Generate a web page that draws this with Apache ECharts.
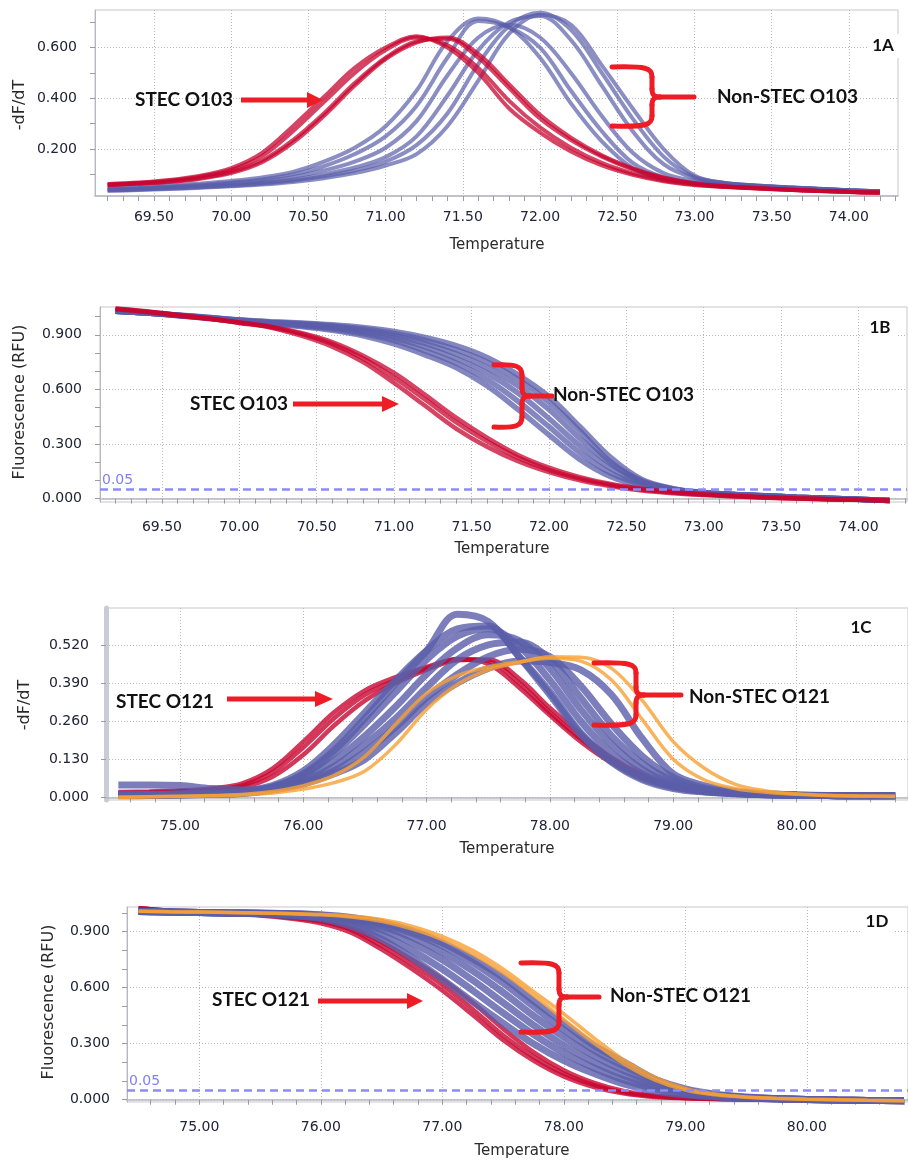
<!DOCTYPE html>
<html>
<head>
<meta charset="utf-8">
<title>STEC O103 / O121 melt curves</title>
<script src="https://cdn.jsdelivr.net/npm/echarts@6.0.0/dist/echarts.min.js"></script>
<style>
  html, body { margin: 0; padding: 0; background: #fff; }
  #chart { width: 908px; height: 1161px; }
</style>
</head>
<body>
<div id="chart"></div>
<script>
  var temp103 = [69.2, 69.4, 69.6, 69.8, 70.0, 70.2, 70.4, 70.6, 70.8, 71.0, 71.2, 71.4, 71.6, 71.8, 72.0, 72.2, 72.4, 72.6, 72.8, 73.0, 73.2, 73.4, 73.6, 73.8, 74.0, 74.2];
  var temp121 = [74.5, 74.75, 75.0, 75.25, 75.5, 75.75, 76.0, 76.25, 76.5, 76.75, 77.0, 77.25, 77.5, 77.75, 78.0, 78.25, 78.5, 78.75, 79.0, 79.25, 79.5, 79.75, 80.0, 80.25, 80.5, 80.8];

  // 1A  -dF/dT, O103
  var redA1 = [0.062, 0.068, 0.078, 0.095, 0.125, 0.185, 0.29, 0.405, 0.52, 0.60, 0.645, 0.60, 0.50, 0.36, 0.265, 0.19, 0.135, 0.098, 0.073, 0.058, 0.05, 0.044, 0.039, 0.034, 0.03, 0.027];
  var redA2 = [0.06, 0.066, 0.075, 0.091, 0.118, 0.172, 0.27, 0.385, 0.50, 0.59, 0.64, 0.61, 0.52, 0.39, 0.285, 0.205, 0.145, 0.104, 0.077, 0.06, 0.051, 0.045, 0.039, 0.034, 0.03, 0.027];
  var redA3 = [0.058, 0.064, 0.072, 0.086, 0.11, 0.155, 0.235, 0.34, 0.46, 0.56, 0.625, 0.635, 0.56, 0.44, 0.32, 0.235, 0.17, 0.12, 0.085, 0.063, 0.052, 0.045, 0.04, 0.035, 0.031, 0.028];
  var redA4 = [0.057, 0.063, 0.07, 0.083, 0.105, 0.148, 0.225, 0.33, 0.45, 0.555, 0.62, 0.64, 0.575, 0.455, 0.335, 0.245, 0.175, 0.124, 0.088, 0.065, 0.053, 0.046, 0.04, 0.035, 0.031, 0.028];
  var blueA1 = [0.045, 0.05, 0.056, 0.064, 0.074, 0.088, 0.11, 0.15, 0.205, 0.29, 0.43, 0.625, 0.715, 0.68, 0.56, 0.38, 0.23, 0.125, 0.08, 0.065, 0.058, 0.052, 0.047, 0.042, 0.037, 0.033];
  var blueA2 = [0.042, 0.046, 0.052, 0.059, 0.068, 0.08, 0.1, 0.132, 0.18, 0.25, 0.37, 0.56, 0.705, 0.68, 0.60, 0.43, 0.27, 0.145, 0.088, 0.067, 0.059, 0.053, 0.047, 0.042, 0.037, 0.033];
  var blueA3 = [0.04, 0.044, 0.049, 0.055, 0.063, 0.074, 0.09, 0.115, 0.15, 0.205, 0.31, 0.49, 0.64, 0.69, 0.64, 0.5, 0.33, 0.185, 0.105, 0.074, 0.062, 0.054, 0.048, 0.042, 0.037, 0.033];
  var blueA4 = [0.038, 0.041, 0.046, 0.051, 0.058, 0.067, 0.08, 0.1, 0.127, 0.168, 0.25, 0.41, 0.59, 0.70, 0.725, 0.63, 0.45, 0.27, 0.14, 0.085, 0.065, 0.056, 0.049, 0.043, 0.037, 0.033];
  var blueA5 = [0.036, 0.04, 0.044, 0.049, 0.055, 0.063, 0.075, 0.092, 0.115, 0.15, 0.215, 0.34, 0.535, 0.685, 0.737, 0.67, 0.5, 0.32, 0.17, 0.09, 0.066, 0.056, 0.049, 0.043, 0.037, 0.032];
  var blueA6 = [0.035, 0.038, 0.042, 0.047, 0.053, 0.06, 0.07, 0.085, 0.105, 0.135, 0.18, 0.29, 0.47, 0.655, 0.73, 0.69, 0.53, 0.36, 0.2, 0.095, 0.065, 0.055, 0.048, 0.042, 0.036, 0.032];

  // 1B  fluorescence, O103
  var redB1 = [1.045, 1.03, 1.01, 0.99, 0.965, 0.94, 0.895, 0.835, 0.75, 0.635, 0.51, 0.385, 0.285, 0.205, 0.145, 0.1, 0.068, 0.045, 0.03, 0.02, 0.012, 0.005, 0.0, -0.004, -0.007, -0.01];
  var redB2 = [1.043, 1.028, 1.008, 0.989, 0.967, 0.943, 0.905, 0.85, 0.77, 0.665, 0.545, 0.42, 0.315, 0.225, 0.158, 0.11, 0.075, 0.05, 0.033, 0.022, 0.013, 0.006, 0.001, -0.003, -0.007, -0.01];
  var redB3 = [1.04, 1.025, 1.005, 0.988, 0.968, 0.945, 0.91, 0.86, 0.785, 0.69, 0.57, 0.445, 0.335, 0.24, 0.17, 0.118, 0.08, 0.054, 0.036, 0.024, 0.015, 0.008, 0.002, -0.003, -0.007, -0.01];
  var blueB1 = [1.03, 1.02, 1.005, 0.99, 0.975, 0.96, 0.945, 0.925, 0.895, 0.85, 0.79, 0.72, 0.62, 0.49, 0.35, 0.215, 0.12, 0.07, 0.045, 0.03, 0.022, 0.015, 0.008, 0.002, -0.004, -0.01];
  var blueB2 = [1.03, 1.02, 1.006, 0.992, 0.977, 0.963, 0.95, 0.932, 0.905, 0.868, 0.812, 0.745, 0.655, 0.535, 0.395, 0.252, 0.14, 0.078, 0.048, 0.031, 0.022, 0.015, 0.008, 0.002, -0.004, -0.01];
  var blueB3 = [1.03, 1.02, 1.007, 0.993, 0.979, 0.966, 0.954, 0.939, 0.915, 0.882, 0.833, 0.77, 0.69, 0.58, 0.44, 0.29, 0.165, 0.088, 0.05, 0.032, 0.022, 0.015, 0.008, 0.002, -0.004, -0.01];
  var blueB4 = [1.03, 1.02, 1.008, 0.994, 0.98, 0.968, 0.958, 0.945, 0.925, 0.895, 0.853, 0.795, 0.72, 0.62, 0.49, 0.33, 0.19, 0.095, 0.052, 0.033, 0.022, 0.015, 0.008, 0.002, -0.004, -0.01];
  var blueB5 = [1.03, 1.02, 1.008, 0.995, 0.981, 0.97, 0.962, 0.95, 0.933, 0.907, 0.87, 0.818, 0.75, 0.655, 0.53, 0.37, 0.2, 0.098, 0.053, 0.033, 0.022, 0.015, 0.008, 0.002, -0.004, -0.01];
  var blueB6 = [1.03, 1.02, 1.009, 0.996, 0.982, 0.972, 0.965, 0.955, 0.94, 0.918, 0.885, 0.84, 0.775, 0.68, 0.56, 0.395, 0.225, 0.105, 0.055, 0.034, 0.022, 0.014, 0.007, 0.001, -0.005, -0.01];

  // 1C  -dF/dT, O121
  var redC1 = [0.015, 0.017, 0.02, 0.026, 0.04, 0.085, 0.17, 0.27, 0.35, 0.40, 0.44, 0.472, 0.465, 0.39, 0.29, 0.2, 0.125, 0.07, 0.035, 0.02, 0.012, 0.008, 0.006, 0.005, 0.004, 0.004];
  var redC2 = [0.012, 0.014, 0.017, 0.022, 0.033, 0.07, 0.145, 0.245, 0.33, 0.39, 0.435, 0.468, 0.47, 0.405, 0.305, 0.215, 0.135, 0.077, 0.04, 0.022, 0.013, 0.009, 0.006, 0.005, 0.004, 0.004];
  var redC3 = [0.018, 0.02, 0.023, 0.03, 0.047, 0.098, 0.19, 0.29, 0.365, 0.41, 0.445, 0.47, 0.455, 0.375, 0.28, 0.19, 0.118, 0.066, 0.033, 0.018, 0.011, 0.008, 0.006, 0.005, 0.004, 0.004];
  var blueC1 = [0.042, 0.042, 0.04, 0.03, 0.025, 0.035, 0.08, 0.16, 0.27, 0.39, 0.5, 0.625, 0.6, 0.48, 0.35, 0.215, 0.12, 0.06, 0.03, 0.018, 0.012, 0.009, 0.007, 0.006, 0.005, 0.005];
  var blueC2 = [0.01, 0.01, 0.012, 0.015, 0.02, 0.04, 0.09, 0.18, 0.29, 0.40, 0.50, 0.575, 0.585, 0.48, 0.36, 0.22, 0.125, 0.065, 0.035, 0.02, 0.013, 0.009, 0.007, 0.006, 0.005, 0.005];
  var blueC3 = [0.009, 0.009, 0.011, 0.014, 0.018, 0.035, 0.075, 0.15, 0.25, 0.36, 0.47, 0.55, 0.575, 0.515, 0.40, 0.26, 0.15, 0.08, 0.04, 0.021, 0.013, 0.009, 0.007, 0.006, 0.005, 0.005];
  var blueC4 = [0.008, 0.008, 0.01, 0.013, 0.016, 0.031, 0.064, 0.125, 0.21, 0.31, 0.42, 0.51, 0.555, 0.535, 0.44, 0.30, 0.18, 0.095, 0.047, 0.024, 0.014, 0.01, 0.007, 0.006, 0.005, 0.005];
  var blueC5 = [0.007, 0.007, 0.009, 0.012, 0.015, 0.028, 0.055, 0.105, 0.18, 0.27, 0.375, 0.47, 0.52, 0.53, 0.47, 0.34, 0.21, 0.115, 0.056, 0.028, 0.015, 0.01, 0.007, 0.006, 0.005, 0.005];
  var blueC6 = [0.006, 0.006, 0.008, 0.011, 0.014, 0.026, 0.05, 0.09, 0.155, 0.24, 0.34, 0.42, 0.48, 0.505, 0.48, 0.38, 0.25, 0.14, 0.068, 0.032, 0.017, 0.011, 0.008, 0.006, 0.005, 0.005];
  var blueC7 = [0.005, 0.006, 0.008, 0.01, 0.013, 0.025, 0.045, 0.08, 0.13, 0.22, 0.32, 0.39, 0.44, 0.465, 0.46, 0.435, 0.35, 0.2, 0.08, 0.04, 0.02, 0.012, 0.008, 0.006, 0.005, 0.005];
  var orangeC1 = [0.0, 0.002, 0.004, 0.006, 0.01, 0.02, 0.04, 0.075, 0.14, 0.25, 0.355, 0.415, 0.445, 0.462, 0.475, 0.465, 0.40, 0.265, 0.13, 0.06, 0.03, 0.017, 0.01, 0.006, 0.004, 0.003];
  var orangeC2 = [0.0, 0.002, 0.003, 0.005, 0.008, 0.015, 0.028, 0.05, 0.09, 0.18, 0.3, 0.385, 0.435, 0.46, 0.48, 0.478, 0.44, 0.33, 0.19, 0.1, 0.045, 0.022, 0.012, 0.007, 0.005, 0.004];

  // 1D  fluorescence, O121
  var redD1 = [1.025, 1.012, 1.003, 0.997, 0.99, 0.975, 0.955, 0.91, 0.825, 0.725, 0.615, 0.485, 0.345, 0.23, 0.14, 0.078, 0.038, 0.018, 0.009, 0.004, 0.002, 0.0, -0.002, -0.004, -0.005, -0.006];
  var redD2 = [1.025, 1.012, 1.003, 0.997, 0.991, 0.978, 0.96, 0.92, 0.845, 0.75, 0.645, 0.52, 0.38, 0.255, 0.158, 0.09, 0.045, 0.021, 0.01, 0.005, 0.002, 0.0, -0.002, -0.004, -0.005, -0.006];
  var redD3 = [1.025, 1.012, 1.002, 0.995, 0.987, 0.97, 0.945, 0.895, 0.805, 0.7, 0.585, 0.455, 0.32, 0.21, 0.125, 0.068, 0.033, 0.015, 0.008, 0.004, 0.002, 0.0, -0.002, -0.004, -0.005, -0.006];
  var blueD1 = [1.008, 1.005, 1.002, 0.999, 0.995, 0.985, 0.97, 0.93, 0.86, 0.76, 0.645, 0.525, 0.41, 0.3, 0.21, 0.14, 0.083, 0.047, 0.026, 0.014, 0.008, 0.004, 0.001, -0.002, -0.004, -0.005];
  var blueD2 = [1.008, 1.005, 1.002, 1.0, 0.997, 0.989, 0.976, 0.945, 0.885, 0.8, 0.7, 0.585, 0.465, 0.35, 0.25, 0.17, 0.105, 0.06, 0.032, 0.017, 0.009, 0.004, 0.001, -0.002, -0.004, -0.005];
  var blueD3 = [1.008, 1.005, 1.002, 1.0, 0.998, 0.992, 0.981, 0.957, 0.91, 0.84, 0.75, 0.64, 0.52, 0.4, 0.29, 0.2, 0.128, 0.075, 0.04, 0.02, 0.01, 0.005, 0.001, -0.002, -0.004, -0.005];
  var blueD4 = [1.008, 1.005, 1.002, 1.0, 0.998, 0.994, 0.985, 0.966, 0.928, 0.87, 0.79, 0.69, 0.575, 0.45, 0.335, 0.235, 0.155, 0.092, 0.05, 0.025, 0.012, 0.005, 0.001, -0.002, -0.004, -0.005];
  var blueD5 = [1.008, 1.005, 1.002, 1.0, 0.999, 0.996, 0.988, 0.972, 0.942, 0.893, 0.825, 0.735, 0.625, 0.5, 0.375, 0.265, 0.178, 0.108, 0.058, 0.029, 0.014, 0.006, 0.001, -0.002, -0.004, -0.005];
  var blueD6 = [1.008, 1.005, 1.002, 1.0, 0.999, 0.997, 0.99, 0.976, 0.95, 0.905, 0.84, 0.755, 0.655, 0.53, 0.41, 0.29, 0.2, 0.11, 0.05, 0.025, 0.012, 0.006, 0.001, -0.002, -0.004, -0.005];
  var orangeD1 = [1.01, 1.007, 1.005, 1.003, 1.0, 0.997, 0.993, 0.983, 0.965, 0.93, 0.875, 0.8, 0.7, 0.58, 0.46, 0.33, 0.21, 0.12, 0.06, 0.03, 0.015, 0.008, 0.003, 0.0, -0.003, -0.005];
  var orangeD2 = [1.01, 1.007, 1.005, 1.003, 1.0, 0.996, 0.99, 0.978, 0.955, 0.915, 0.858, 0.78, 0.68, 0.56, 0.43, 0.305, 0.19, 0.105, 0.052, 0.026, 0.013, 0.007, 0.003, 0.0, -0.003, -0.005];

  // tick labels
  var xLabels103 = [69.5, 70.0, 70.5, 71.0, 71.5, 72.0, 72.5, 73.0, 73.5, 74.0];
  var xLabels121 = [75, 76, 77, 78, 79, 80];
  var yLabelsA = [0.2, 0.4, 0.6];
  var yLabelsB = [0, 0.3, 0.6, 0.9];
  var yLabelsC = [0, 0.13, 0.26, 0.39, 0.52];
  var yLabelsD = [0, 0.3, 0.6, 0.9];
  var threshold = 0.05;

  var RED = '#c80530', BLUE = '#5a5ea9', ORANGE = '#f7a035', MARK = '#ee1c24';

  function steps(a, b, s) {
    var out = [];
    for (var v = a; v <= b + 1e-9; v += s) out.push(Math.round(v * 1000) / 1000);
    return out;
  }

  var panels = [
    { left: 95, top: 10, width: 803, height: 186, xMin: 69.118, xMax: 74.318, yMin: 0.0146, yMax: 0.7483,
      xLab: xLabels103, xMinor: steps(69.2, 74.3, 0.1), yLab: yLabelsA, yMinor: steps(0.1, 0.7, 0.1), xMargin: 14, yMargin: 18, yLineW: 1 },
    { left: 100, top: 307, width: 807, height: 195, xMin: 69.1, xMax: 74.313, yMin: -0.0187, yMax: 1.0527,
      xLab: xLabels103, xMinor: steps(69.2, 74.3, 0.1), yLab: yLabelsB, yMinor: steps(0, 1.0, 0.1), xMargin: 18, yMargin: 18, yLineW: 1 },
    { left: 106, top: 608, width: 802, height: 192, xMin: 74.4, xMax: 80.904, yMin: -0.0092, yMax: 0.6461,
      xLab: xLabels121, xMinor: steps(74.6, 80.8, 0.2), yLab: yLabelsC, yMinor: yLabelsC, xMargin: 19, yMargin: 17, yLineW: 5 },
    { left: 127, top: 907, width: 781, height: 195, xMin: 74.405, xMax: 80.833, yMin: -0.0123, yMax: 1.0321,
      xLab: xLabels121, xMinor: steps(74.6, 80.8, 0.2), yLab: yLabelsD, yMinor: steps(0, 1.0, 0.1), xMargin: 18, yMargin: 17, yLineW: 1 }
  ];

  var grids = [], xAxes = [], yAxes = [];
  panels.forEach(function (p, gi) {
    grids.push({ left: p.left, top: p.top, width: p.width, height: p.height, show: true, borderColor: '#c7c7cf', borderWidth: 1 });
    xAxes.push({
      type: 'value', gridIndex: gi, position: 'bottom', min: p.xMin, max: p.xMax,
      axisLine: { show: true, lineStyle: { color: '#b6b6c0', width: 1.5 } },
      axisTick: { show: false, customValues: p.xLab },
      axisLabel: { customValues: p.xLab, margin: p.xMargin, fontFamily: 'DejaVu Sans', fontSize: 14, color: '#222238',
        formatter: function (v) { return v.toFixed(2); } },
      splitLine: { show: true, lineStyle: { type: [1, 2], color: '#b8b8b8' } }
    });
    xAxes.push({
      type: 'value', gridIndex: gi, position: 'bottom', min: p.xMin, max: p.xMax,
      axisLine: { show: false },
      axisTick: { show: true, customValues: p.xMinor, length: 5, lineStyle: { color: '#9a9aa4' } },
      axisLabel: { show: false }, splitLine: { show: false }
    });
    yAxes.push({
      type: 'value', gridIndex: gi, position: 'left', min: p.yMin, max: p.yMax,
      axisLine: { show: true, lineStyle: { color: p.yLineW > 1 ? '#c9ccd3' : '#b6b6c0', width: p.yLineW } },
      axisTick: { show: false, customValues: p.yLab },
      axisLabel: { customValues: p.yLab, margin: p.yMargin, fontFamily: 'DejaVu Sans', fontSize: 14, color: '#222238',
        formatter: function (v) { return v.toFixed(3); } },
      splitLine: { show: true, lineStyle: { type: [1, 2], color: '#b8b8b8' } }
    });
    yAxes.push({
      type: 'value', gridIndex: gi, position: 'left', min: p.yMin, max: p.yMax,
      axisLine: { show: false },
      axisTick: { show: true, customValues: p.yMinor, length: 5, lineStyle: { color: '#9a9aa4' } },
      axisLabel: { show: false }, splitLine: { show: false }
    });
  });

  function curve(gi, temps, vals, color, opacity, width) {
    return {
      type: 'line', xAxisIndex: gi * 2, yAxisIndex: gi * 2,
      data: temps.map(function (t, i) { return [t, vals[i]]; }),
      smooth: 0.35, symbol: 'none', silent: true, animation: false, clip: true,
      lineStyle: { color: color, opacity: opacity, width: width }
    };
  }

  var series = [];
  [blueA1, blueA2, blueA3, blueA4, blueA5, blueA6].forEach(function (d) { series.push(curve(0, temp103, d, BLUE, 0.7, 4)); });
  [redA1, redA2, redA3, redA4].forEach(function (d) { series.push(curve(0, temp103, d, RED, 0.75, 4)); });

  [blueB1, blueB2, blueB3, blueB4, blueB5, blueB6].forEach(function (d) { series.push(curve(1, temp103, d, BLUE, 0.75, 5.5)); });
  [redB1, redB2, redB3].forEach(function (d) { series.push(curve(1, temp103, d, RED, 0.75, 4.5)); });

  [redC1, redC2, redC3].forEach(function (d) { series.push(curve(2, temp121, d, RED, 0.8, 4.5)); });
  [blueC1, blueC2, blueC3, blueC4, blueC5, blueC6, blueC7].forEach(function (d) { series.push(curve(2, temp121, d, BLUE, 0.8, 7)); });
  [orangeC1, orangeC2].forEach(function (d) { series.push(curve(2, temp121, d, ORANGE, 0.8, 3.5)); });

  [redD1, redD2, redD3].forEach(function (d) { series.push(curve(3, temp121, d, RED, 0.8, 4.5)); });
  [blueD1, blueD2, blueD3, blueD4, blueD5, blueD6].forEach(function (d) { series.push(curve(3, temp121, d, BLUE, 0.8, 7)); });
  [orangeD1, orangeD2].forEach(function (d) { series.push(curve(3, temp121, d, ORANGE, 0.8, 3.5)); });

  // 0.05 threshold lines on the fluorescence panels
  [1, 3].forEach(function (gi) {
    series.push({
      type: 'line', xAxisIndex: gi * 2, yAxisIndex: gi * 2, data: [], silent: true, animation: false,
      markLine: {
        silent: true, symbol: 'none', animation: false,
        lineStyle: { color: '#8b8bff', type: [8, 5], width: 2.5 },
        label: { show: true, position: 'insideStartTop', formatter: String(threshold), color: '#8080f4',
          fontFamily: 'DejaVu Sans', fontSize: 14, distance: 2 },
        data: [{ yAxis: threshold }]
      }
    });
  });

  // annotations (pixel layout)
  var axisNames = [
    { t: '-dF/dT', x: 20, y: 105, rot: true }, { t: 'Temperature', x: 497, y: 245 },
    { t: 'Fluorescence (RFU)', x: 20, y: 402, rot: true }, { t: 'Temperature', x: 502, y: 549 },
    { t: '-dF/dT', x: 25, y: 705, rot: true }, { t: 'Temperature', x: 507, y: 849 },
    { t: 'Fluorescence (RFU)', x: 49, y: 1002, rot: true }, { t: 'Temperature', x: 522, y: 1151 }
  ];
  var tags = [{ t: '1A', x: 883, y: 46 }, { t: '1B', x: 880, y: 328 }, { t: '1C', x: 861, y: 628 }, { t: '1D', x: 877, y: 922 }];
  var notes = [
    { t: 'STEC O103', x: 135, y: 100 }, { t: 'Non-STEC O103', x: 717, y: 97 },
    { t: 'STEC O103', x: 190, y: 404 }, { t: 'Non-STEC O103', x: 553, y: 395 },
    { t: 'STEC O121', x: 116, y: 702 }, { t: 'Non-STEC O121', x: 689, y: 697 },
    { t: 'STEC O121', x: 212, y: 1000 }, { t: 'Non-STEC O121', x: 610, y: 996 }
  ];
  var arrows = [
    { x1: 241, xh: 307, xt: 323, y: 100 }, { x1: 293, xh: 382, xt: 399, y: 404 },
    { x1: 227, xh: 315, xt: 333, y: 699 }, { x1: 318, xh: 407, xt: 423, y: 1001 }
  ];
  var braces = [
    { arm: 612, bar: 652, top: 67, mid: 97, bot: 126, tail: 694 },
    { arm: 494, bar: 522, top: 365, mid: 396, bot: 427, tail: 552 },
    { arm: 594, bar: 636, top: 663, mid: 695, bot: 725, tail: 681 },
    { arm: 521, bar: 559, top: 963, mid: 997, bot: 1032, tail: 599 }
  ];

  function txt(t, x, y, font, color, align, rot) {
    return { type: 'text', x: x, y: y, rotation: rot ? Math.PI / 2 : 0, silent: true, z: 100,
      style: { text: t, font: font, fill: color, align: align, textAlign: align, verticalAlign: 'middle', textVerticalAlign: 'middle' } };
  }
  var stroke = { stroke: MARK, lineWidth: 5, fill: null, lineCap: 'round' };

  var elements = [];
  axisNames.forEach(function (a) {
    elements.push(txt(a.t, a.x, a.y, (a.rot ? '16px' : '15px') + ' "DejaVu Sans"', '#2a2a2a', 'center', a.rot));
  });
  tags.forEach(function (a) {
    elements.push({ type: 'rect', shape: { x: a.x - 16, y: a.y - 12, width: 32, height: 24 }, style: { fill: '#fff' }, silent: true, z: 99 });
    elements.push(txt(a.t, a.x, a.y, 'bold 17px Lato', '#111', 'center'));
  });
  notes.forEach(function (a) { elements.push(txt(a.t, a.x, a.y, 'bold 19px Lato', '#111', 'left')); });
  arrows.forEach(function (a) {
    elements.push({ type: 'line', silent: true, z: 100, shape: { x1: a.x1, y1: a.y, x2: a.xh + 2, y2: a.y }, style: { stroke: MARK, lineWidth: 5 } });
    elements.push({ type: 'polygon', silent: true, z: 100, shape: { points: [[a.xh, a.y - 8], [a.xt, a.y], [a.xh, a.y + 8]] }, style: { fill: MARK } });
  });
  braces.forEach(function (b) {
    var parts = [
      { type: 'bezierCurve', shape: { x1: b.arm, y1: b.top, cpx1: b.bar - 6, cpy1: b.top - 1, cpx2: b.bar, cpy2: b.top + 1, x2: b.bar, y2: b.top + 10 } },
      { type: 'line', shape: { x1: b.bar, y1: b.top + 10, x2: b.bar, y2: b.mid - 8 } },
      { type: 'bezierCurve', shape: { x1: b.bar, y1: b.mid - 8, cpx1: b.bar, cpy1: b.mid - 2, cpx2: b.bar + 2, cpy2: b.mid, x2: b.bar + 8, y2: b.mid } },
      { type: 'line', shape: { x1: b.bar + 8, y1: b.mid, x2: b.tail, y2: b.mid } },
      { type: 'bezierCurve', shape: { x1: b.bar + 8, y1: b.mid, cpx1: b.bar + 2, cpy1: b.mid, cpx2: b.bar, cpy2: b.mid + 2, x2: b.bar, y2: b.mid + 8 } },
      { type: 'line', shape: { x1: b.bar, y1: b.mid + 8, x2: b.bar, y2: b.bot - 10 } },
      { type: 'bezierCurve', shape: { x1: b.bar, y1: b.bot - 10, cpx1: b.bar, cpy1: b.bot - 1, cpx2: b.bar - 6, cpy2: b.bot + 1, x2: b.arm, y2: b.bot } }
    ];
    parts.forEach(function (p) { p.style = stroke; p.silent = true; p.z = 100; elements.push(p); });
  });

  var chart = echarts.init(document.getElementById('chart'));
  chart.setOption({
    backgroundColor: '#fff',
    animation: false,
    grid: grids,
    xAxis: xAxes,
    yAxis: yAxes,
    series: series,
    graphic: { elements: elements }
  });
</script>
</body>
</html>
